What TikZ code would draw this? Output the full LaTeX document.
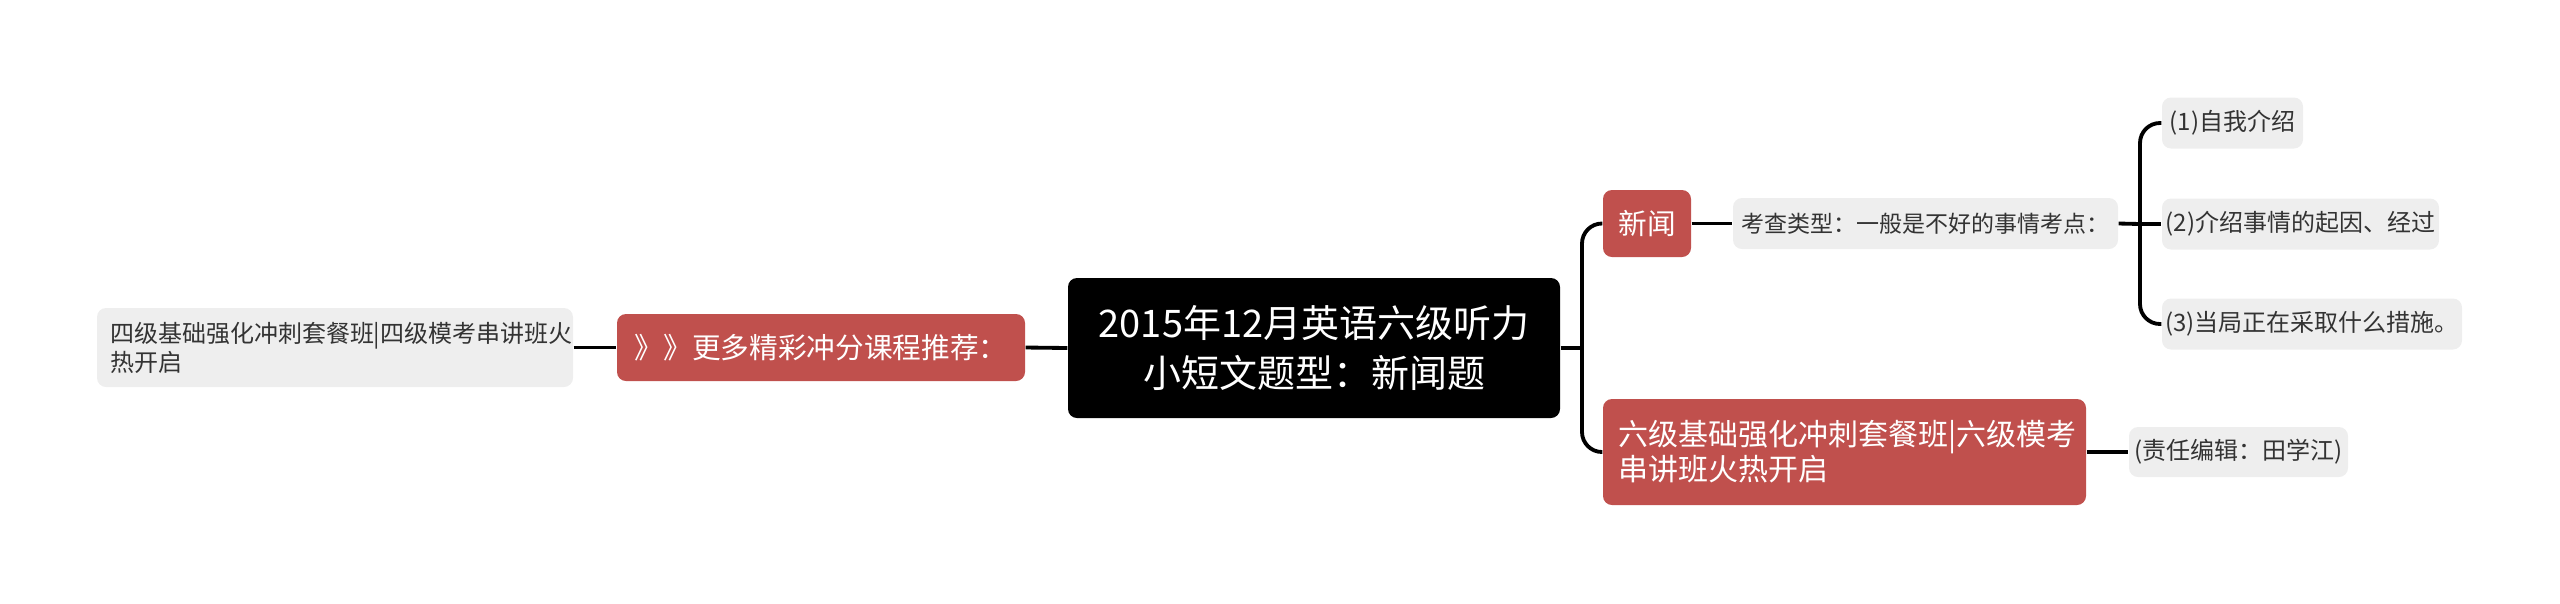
\documentclass[tikz,border=0pt]{standalone}
\usepackage{fontspec}
\setmainfont{Noto Sans CJK SC}
\definecolor{mmred}{HTML}{C0504D}
\definecolor{mmgrey}{HTML}{EEEEEE}
\definecolor{mmtext}{HTML}{333333}
\tikzset{
  box/.style={rounded corners=2.7pt, inner sep=0pt, anchor=center},
  rootbox/.style={box, fill=black, text=white, align=center,
    minimum width=147.6pt, minimum height=42pt,
    font=\fontsize{11.4pt}{15pt}\selectfont},
  redbox/.style={box, fill=mmred, text=white},
  greybox/.style={box, fill=mmgrey, text=mmtext},
  conn/.style={line width=1.15pt, black},
}
\begin{document}
\begin{tikzpicture}[x=0.3pt,y=-0.3pt]
\useasboundingbox (0,0) rectangle (2560,603);
\node[rootbox] (root) at (1314,348) {2015年12月英语六级听力\\小短文题型：新闻题};
\node[redbox, minimum width=122.4pt, minimum height=20.1pt,
  font=\fontsize{8.6pt}{10pt}\selectfont] (leftred) at (821,347.5) {》》更多精彩冲分课程推荐：};
\node[greybox, minimum height=23.7pt, inner xsep=3.9pt, text width=135pt, align=left,
  font=\fontsize{7.2pt}{8.7pt}\selectfont] (leftgrey) at (335,347.5) {四级基础强化冲刺套餐班|四级模考串讲班火\\热开启};
\node[redbox, minimum width=26.4pt, minimum height=20.1pt,
  font=\fontsize{8.6pt}{10pt}\selectfont] (xinwen) at (1647,223.5) {新闻};
\node[redbox, minimum height=31.8pt, inner xsep=4.5pt, text width=135.9pt, align=left,
  font=\fontsize{9pt}{10.5pt}\selectfont] (liuji) at (1844.5,452) {六级基础强化冲刺套餐班|六级模考\\串讲班火热开启};
\node[greybox, minimum width=115.5pt, minimum height=15.3pt,
  font=\fontsize{6.9pt}{8.7pt}\selectfont] (kaocha) at (1925.5,223.5) {考查类型：一般是不好的事情考点：};
\node[greybox, minimum width=42.3pt, minimum height=15.3pt,
  font=\fontsize{7.2pt}{8.7pt}\selectfont] (item1) at (2232.5,123) {(1)自我介绍};
\node[greybox, minimum width=83.1pt, minimum height=15.3pt,
  font=\fontsize{7.2pt}{8.7pt}\selectfont] (item2) at (2300.5,224) {(2)介绍事情的起因、经过};
\node[greybox, minimum width=90pt, minimum height=15.3pt,
  font=\fontsize{7.2pt}{8.7pt}\selectfont] (item3) at (2312,324) {(3)当局正在采取什么措施。};
\node[greybox, minimum width=65.7pt, minimum height=15pt,
  font=\fontsize{7.2pt}{8.7pt}\selectfont] (zeren) at (2238.5,452) {(责任编辑：田学江)};
\draw[conn] (leftgrey.east) -- (leftred.west);
\draw[conn] (leftred.east) -- (root.west);
\coordinate (rj) at (1582,348);
\draw[conn] (root.east) -- (rj);
\draw[conn, rounded corners=6pt] (xinwen.west) -| (rj) |- (liuji.west);
\draw[conn] (xinwen.east) -- (kaocha.west);
\coordinate (kj) at (2140,224);
\draw[conn] (kaocha.east) -- (kj);
\draw[conn, rounded corners=6pt] (item1.west) -| (kj) |- (item3.west);
\draw[conn] (kj) -- (item2.west);
\draw[conn] (liuji.east) -- (zeren.west);
\end{tikzpicture}
\end{document}
